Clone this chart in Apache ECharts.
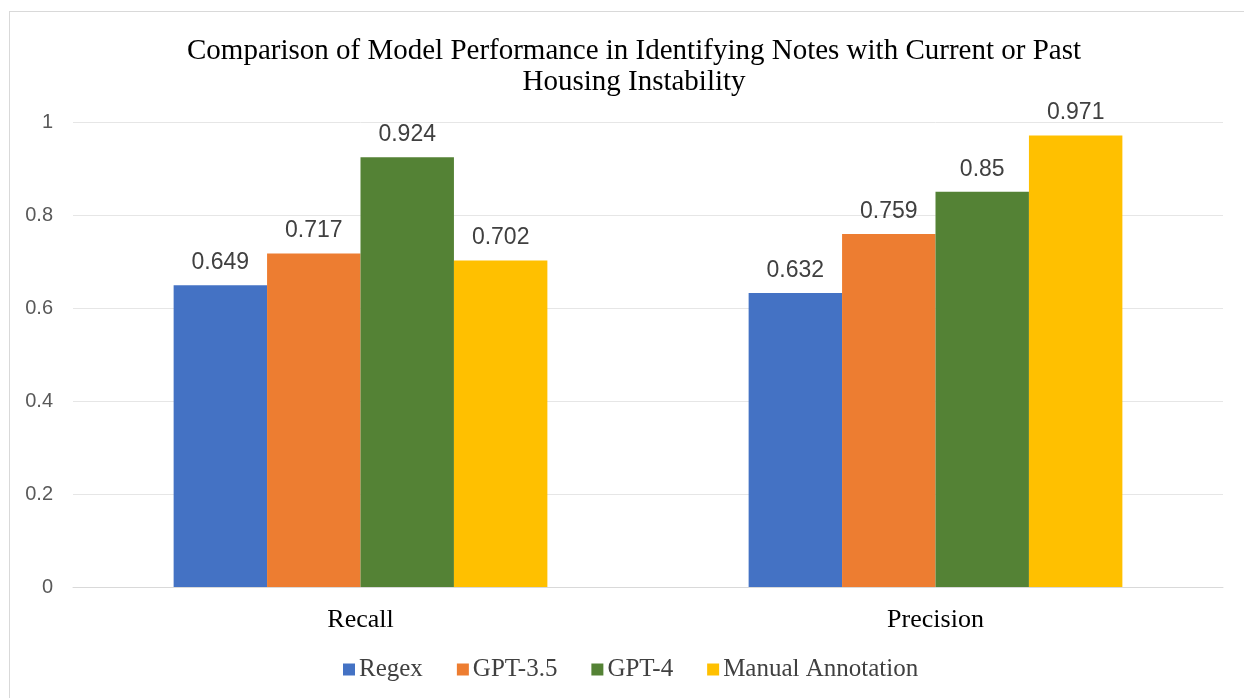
<!DOCTYPE html>
<html><head><meta charset="utf-8">
<script src="https://cdn.jsdelivr.net/npm/echarts@6/dist/echarts.min.js"></script>
<style>
html,body{margin:0;padding:0;background:#fff;}
#frame{position:absolute;left:9px;top:11px;width:1250px;height:700px;border:1px solid #d9d9d9;box-sizing:border-box;}
#c{position:absolute;left:0;top:0;width:1244px;height:698px;}
</style></head>
<body>
<div id="frame"></div>
<div id="c"></div>
<script>
const categories = ['Recall', 'Precision'];
const seriesNames = ['Regex', 'GPT-3.5', 'GPT-4', 'Manual Annotation'];
const regex = [0.649, 0.632];
const gpt35 = [0.717, 0.759];
const gpt4 = [0.924, 0.85];
const manual = [0.702, 0.971];
const yTicks = [0, 0.2, 0.4, 0.6, 0.8, 1];
const colors = ['#4472C4', '#ED7D31', '#548235', '#FFC000'];
const values = [regex, gpt35, gpt4, manual];

const chart = echarts.init(document.getElementById('c'));
chart.setOption({
  animation: false,
  title: {
    text: 'Comparison of Model Performance in Identifying Notes with Current or Past\nHousing Instability',
    left: 629, top: 31, textAlign: 'center',
    textStyle: {fontFamily: 'Liberation Serif', fontSize: 29, fontWeight: 'normal', color: '#000', lineHeight: 31}
  },
  legend: {
    data: seriesNames, top: 652, left: 338,
    icon: 'rect', itemWidth: 12, itemHeight: 12, itemGap: 34,
    textStyle: {fontFamily: 'Liberation Serif', fontSize: 25, color: '#404040', padding: [0,0,0,-1]}
  },
  grid: {left: 73, right: 21, top: 122, bottom: 111, containLabel: false},
  xAxis: {
    type: 'category', data: categories,
    axisLine: {lineStyle: {color: '#d9d9d9'}}, axisTick: {show: false},
    axisLabel: {fontFamily: 'Liberation Serif', fontSize: 26, color: '#000', margin: 20}
  },
  yAxis: {
    type: 'value', min: 0, max: 1, interval: 0.2,
    axisLine: {show: false}, axisTick: {show: false},
    splitLine: {lineStyle: {color: '#e6e6e6'}},
    axisLabel: {fontFamily: 'Liberation Sans', fontSize: 20, color: '#595959', margin: 20,
      formatter: v => String(Math.round(v*10)/10)}
  },
  series: seriesNames.map((n, i) => ({
    name: n, type: 'bar', data: values[i], barGap: '0%', barCategoryGap: '35%',
    itemStyle: {color: colors[i]},
    label: {show: true, position: 'top', distance: 11, fontFamily: 'Liberation Sans', fontSize: 23, color: '#404040'}
  }))
});
</script>
</body></html>
